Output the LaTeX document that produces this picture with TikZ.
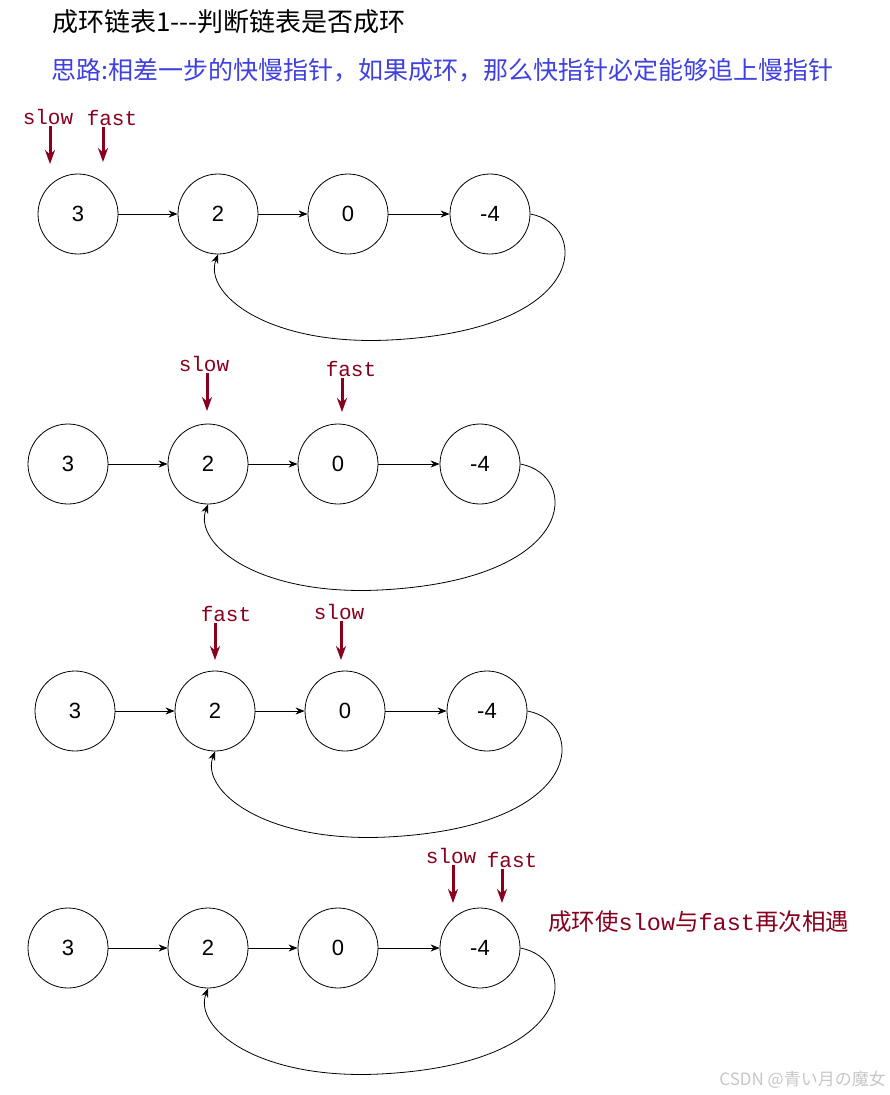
\documentclass[tikz,border=0pt]{standalone}
\usepackage{fontspec}
\setmainfont{Liberation Sans}
\newfontfamily\cjk{Noto Sans CJK SC}
\newfontfamily\mono{Liberation Mono}
\usepackage{xcolor}
\usepackage{tikz}
\usetikzlibrary{arrows.meta}
\definecolor{ptrred}{RGB}{135,0,30}
\definecolor{ideablue}{RGB}{64,64,224}
\tikzset{
  listnode/.style={draw,circle,minimum size=80pt,inner sep=0pt,line width=0.8pt,font=\fontsize{22}{22}\selectfont},
  nextarrow/.style={-{Stealth[length=9pt,width=7pt]},line width=0.8pt},
  ptrlabel/.style={text=ptrred,font=\mono\fontsize{21}{21}\selectfont,inner sep=1pt},
  ptr/.style={-{Stealth[length=14pt,width=10pt]},line width=3pt,draw=ptrred},
  plaintext/.style={anchor=west,inner sep=0pt}
}
\begin{document}
\begin{tikzpicture}[x=1pt,y=-1pt]
\fill[white] (0,0) rectangle (890,1095);
\useasboundingbox (0,0) rectangle (890,1095);
% title and idea
\node[plaintext,font=\cjk\fontsize{26}{26}\selectfont] (title) at (52,22) {成环链表1---判断链表是否成环};
\node[plaintext,text=ideablue,font=\cjk\fontsize{25}{25}\selectfont] (idea) at (51,70) {思路:相差一步的快慢指针，如果成环，那么快指针必定能够追上慢指针};
% four snapshots of the list
\foreach \r/\sx/\sy in {a/78/214,b/68/464,c/75/711,d/68/948}{
  \begin{scope}[shift={(\sx,\sy)}]
  \foreach \x/\v [count=\i] in {0/3,140/2,270/0,412/-4}
    \node[listnode] (\r\i) at (\x,0) {\v};
  \foreach \i/\j in {1/2,2/3,3/4}
    \draw[nextarrow] (\r\i) -- (\r\j);
  \draw[nextarrow] (\r4.east) .. controls (512,11) and (512,116) .. (312,126)
    .. controls (190,132) and (125,80) .. (\r2.south);
  \end{scope}
}
% pointers
\node[ptrlabel] (slow1) at (48,117) {slow};
\node[ptrlabel] (fast1) at (112,118) {fast};
\coordinate (slow1tip) at (50,164);
\coordinate (fast1tip) at (103,162);
\node[ptrlabel] (slow2) at (204,364) {slow};
\node[ptrlabel] (fast2) at (351,369) {fast};
\coordinate (slow2tip) at (207,411);
\coordinate (fast2tip) at (342,412);
\node[ptrlabel] (fast3) at (226,614) {fast};
\node[ptrlabel] (slow3) at (339,612) {slow};
\coordinate (fast3tip) at (215,660);
\coordinate (slow3tip) at (341,660);
\node[ptrlabel] (slow4) at (451,856) {slow};
\node[ptrlabel] (fast4) at (512,860) {fast};
\coordinate (slow4tip) at (453,903);
\coordinate (fast4tip) at (502,903);
\foreach \p in {slow1,fast1,slow2,fast2,fast3,slow3,slow4,fast4}
  \draw[ptr] (\p.south -| \p tip) -- (\p tip);
\node[plaintext,text=ptrred,font=\fontsize{23.5}{23.5}\selectfont] (meet) at (548,922)
  {{\cjk 成环使}{\mono slow}{\cjk 与}{\mono fast}{\cjk 再次相遇}};
\node[anchor=east,inner sep=0pt,text=black!22,font=\cjk\fontsize{17}{17}\selectfont] (mark) at (886,1080) {CSDN @青い月の魔女};
\end{tikzpicture}
\end{document}
